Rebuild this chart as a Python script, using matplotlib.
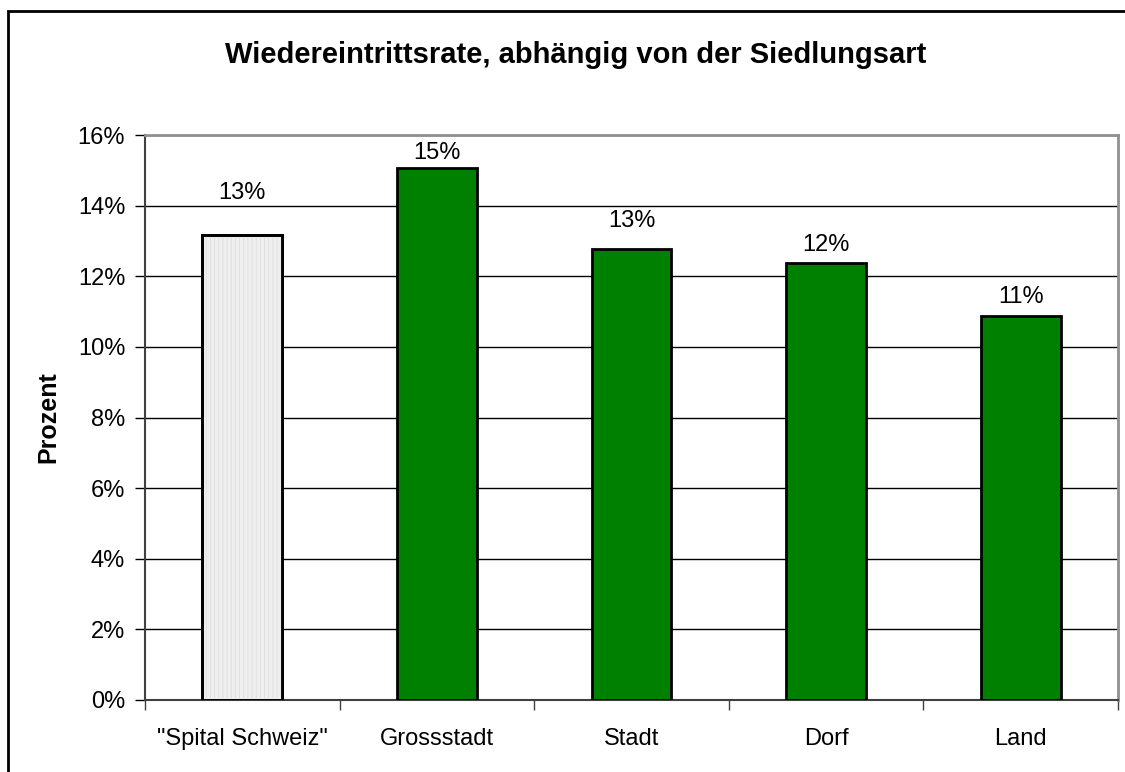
import numpy as np
import matplotlib.pyplot as plt
from matplotlib.patches import Rectangle

plt.rcParams['font.family'] = ['Liberation Sans', 'DejaVu Sans']
plt.rcParams['hatch.linewidth'] = 0.6

categories = ['"Spital Schweiz"', 'Grossstadt', 'Stadt', 'Dorf', 'Land']
values = [13.17, 15.07, 12.78, 12.38, 10.88]
labels = ['13%', '15%', '13%', '12%', '11%']
yticks = [0, 2, 4, 6, 8, 10, 12, 14, 16]

# label placement above bar tops, in pixels (as in the original layout)
label_gap = [42, 15, 28, 18, 19]

fig = plt.figure(figsize=(11.25, 7.72), dpi=100, facecolor='w')
ax = fig.add_axes([145/1125, 1 - 700/772, 973/1125, 565/772])

x = np.arange(len(categories))
colors = ['#efefef'] + ['#008000'] * 4
ax.bar(x, values, width=0.41, color=colors, edgecolor='k', lw=2, zorder=3)
# light vertical hatch on the reference bar
ax.bar(x[0], values[0], width=0.41, color='none', edgecolor='#dedede',
       lw=0, hatch='||||', zorder=3.5)
ax.bar(x[0], values[0], width=0.41, color='none', edgecolor='k', lw=2, zorder=4)

for xi, v, lab, g in zip(x, values, labels, label_gap):
    ax.annotate(lab, (xi, v), xytext=(0, g * 0.72), textcoords='offset points',
                ha='center', va='center', fontsize=17)

ax.set_xlim(-0.5, len(categories) - 0.5)
ax.set_ylim(0, 16)
ax.set_yticks(yticks)
ax.set_yticklabels([f'{t}%' for t in yticks], fontsize=17)
ax.set_xticks(x)
ax.set_xticklabels(categories, fontsize=17)
ax.set_xticks(np.arange(-0.5, len(categories)), minor=True)
ax.tick_params(axis='x', which='major', length=0, pad=20)
ax.tick_params(axis='x', which='minor', length=7, width=1, color='#404040')
ax.tick_params(axis='y', length=7, width=1, pad=7.3)
ax.grid(axis='y', color='k', lw=1, zorder=0)
ax.set_axisbelow(True)

ax.set_ylabel('Prozent', fontsize=18, fontweight='bold', labelpad=12.5)
for s in ('top', 'right'):
    ax.spines[s].set_color('#909090')
    ax.spines[s].set_linewidth(2)
ax.spines['left'].set_color('#404040')
ax.spines['left'].set_linewidth(1.5)
ax.spines['bottom'].set_color('#404040')
ax.spines['bottom'].set_linewidth(1.5)

fig.text(576/1125, 1 - 55/772, 'Wiedereintrittsrate, abhängig von der Siedlungsart',
         ha='center', va='center', fontsize=21, fontweight='bold')

fig.patches.append(Rectangle((8/1125, -0.1), 1.2, 1 - 11/772 + 0.1,
                             transform=fig.transFigure, fill=False,
                             edgecolor='k', lw=2))

fig.savefig('out.png', dpi=100)
